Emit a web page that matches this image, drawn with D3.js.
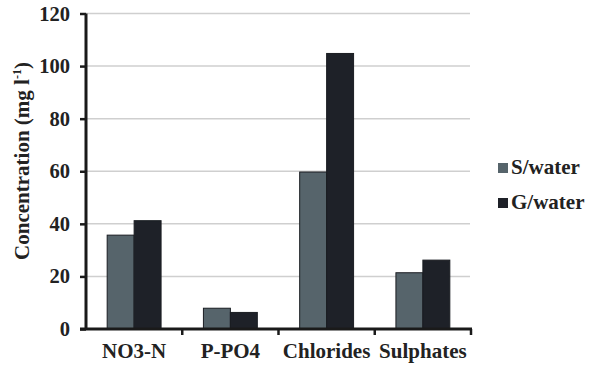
<!DOCTYPE html>
<html>
<head>
<meta charset="utf-8">
<script src="https://cdn.jsdelivr.net/npm/d3@7/dist/d3.min.js"></script>
<style>
  html, body { margin: 0; padding: 0; background: #fff; }
  svg { display: block; }
</style>
</head>
<body>
<svg id="chart" width="591" height="366" font-family="Liberation Serif" font-weight="bold"></svg>
<script>
const categories = ["NO3-N", "P-PO4", "Chlorides", "Sulphates"];
const seriesNames = ["S/water", "G/water"];
const sWater = [35.7, 7.9, 59.7, 21.4];
const gWater = [41.2, 6.3, 104.8, 26.2];
const yTicks = [0, 20, 40, 60, 80, 100, 120];
const colors = ["#56646b", "#1e2128"];

(function () {
const FONT = "Liberation Serif";
const svg = d3.select("#chart");
const mLeft = 86, mRight = 471, mTop = 13.5, mBottom = 329;

const x = d3.scaleBand().domain(categories).range([mLeft, mRight]).padding(0);
const x1 = d3.scaleBand().domain(seriesNames)
  .range([x.bandwidth() * 0.22, x.bandwidth() * 0.78]).padding(0);
const y = d3.scaleLinear().domain([0, 120]).range([mBottom, mTop]);

// gridlines
svg.append("g").selectAll("line").data(yTicks.filter(d => d > 0)).join("line")
  .attr("x1", mLeft).attr("x2", mRight - 1)
  .attr("y1", d => y(d)).attr("y2", d => y(d))
  .attr("stroke", "#cfcfcf").attr("stroke-width", 1.5);

// bars
const data = categories.map((c, i) => ({ cat: c, vals: [sWater[i], gWater[i]] }));
const groups = svg.append("g").selectAll("g").data(data).join("g")
  .attr("transform", d => `translate(${x(d.cat)},0)`);
groups.selectAll("rect").data(d => d.vals.map((v, j) => ({ name: seriesNames[j], v, j })))
  .join("rect")
  .attr("x", d => x1(d.name))
  .attr("width", x1.bandwidth())
  .attr("y", d => y(d.v))
  .attr("height", d => mBottom - y(d.v))
  .attr("fill", d => colors[d.j])
  .attr("stroke", "#1a1d22").attr("stroke-width", 1);

// y axis
const yAxis = d3.axisLeft(y).tickValues(yTicks).tickSize(6).tickPadding(10);
const gy = svg.append("g").attr("transform", `translate(${mLeft},0)`).call(yAxis)
  .attr("font-family", FONT).attr("font-size", 20);
gy.select(".domain").attr("stroke", "#1a1a1a").attr("stroke-width", 3)
  .attr("d", `M0,${mTop}V${mBottom}`);
gy.selectAll(".tick line").attr("stroke", "#1a1a1a").attr("stroke-width", 2.5);
gy.selectAll(".tick text").attr("font-family", FONT).attr("font-size", 20.5)
  .attr("font-weight", "bold").attr("fill", "#222");

// x axis
const gx = svg.append("g").attr("transform", `translate(0,${mBottom})`);
gx.append("line").attr("x1", mLeft - 6).attr("x2", mRight + 1).attr("y1", 0).attr("y2", 0)
  .attr("stroke", "#1a1a1a").attr("stroke-width", 3);
const boundaries = categories.map(c => x(c) + x.bandwidth());
gx.selectAll("line.tk").data(boundaries).join("line").attr("class", "tk")
  .attr("x1", d => d).attr("x2", d => d).attr("y1", 0).attr("y2", 6)
  .attr("stroke", "#1a1a1a").attr("stroke-width", 2.5);
gx.selectAll("text").data(categories).join("text")
  .attr("x", d => x(d) + x.bandwidth() / 2)
  .attr("y", 29)
  .attr("text-anchor", "middle")
  .attr("font-family", FONT).attr("font-weight", "bold")
  .attr("font-size", 21).attr("fill", "#222")
  .text(d => d);

// y label
const yl = svg.append("text")
  .attr("transform", `translate(29,161) rotate(-90)`)
  .attr("text-anchor", "middle")
  .attr("font-family", FONT).attr("font-weight", "bold")
  .attr("font-size", 21).attr("fill", "#222");
yl.append("tspan").text("Concentration (mg l");
yl.append("tspan").attr("dy", -8).attr("font-size", 12).text("-1");
yl.append("tspan").attr("dy", 8).text(")");

// legend
const lg = svg.append("g").selectAll("g").data(seriesNames).join("g")
  .attr("transform", (d, i) => `translate(498,${163 + i * 35})`);
lg.append("rect").attr("width", 10).attr("height", 10)
  .attr("fill", (d, i) => colors[i]);
lg.append("text").attr("x", 13).attr("y", 10.5)
  .attr("font-family", FONT).attr("font-weight", "bold")
  .attr("font-size", 21).attr("fill", "#222").text(d => d);
})();
</script>
</body>
</html>
